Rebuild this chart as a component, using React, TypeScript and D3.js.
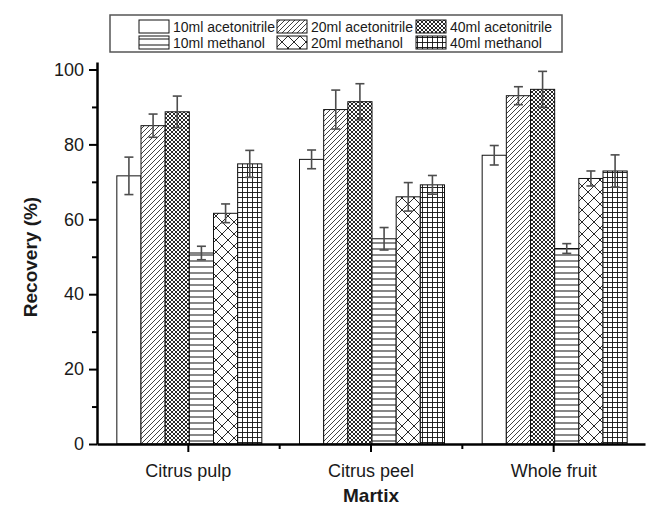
import React, { useEffect, useRef } from 'react';
import * as d3 from 'd3';

const categories = ['Citrus pulp', 'Citrus peel', 'Whole fruit'];
const seriesNames = [
  '10ml acetonitrile',
  '20ml acetonitrile',
  '40ml acetonitrile',
  '10ml methanol',
  '20ml methanol',
  '40ml methanol',
];

// recovery (%) per matrix, order follows categories
const acn10 = [71.6, 76.0, 77.1];
const acn20 = [85.0, 89.3, 93.0];
const acn40 = [88.7, 91.4, 94.7];
const meoh10 = [51.0, 54.8, 52.2];
const meoh20 = [61.6, 66.0, 70.9];
const meoh40 = [74.8, 69.2, 72.9];

// standard deviations
const acn10Err = [5.0, 2.5, 2.6];
const acn20Err = [3.1, 5.2, 2.4];
const acn40Err = [4.2, 4.8, 4.8];
const meoh10Err = [1.8, 3.0, 1.3];
const meoh20Err = [2.5, 3.8, 2.0];
const meoh40Err = [3.6, 2.5, 4.3];

const yTicks = [0, 20, 40, 60, 80, 100];
const yMinorTicks = [10, 30, 50, 70, 90];

const values = [acn10, acn20, acn40, meoh10, meoh20, meoh40];
const errors = [acn10Err, acn20Err, acn40Err, meoh10Err, meoh20Err, meoh40Err];

const FONT = "'Liberation Sans', Arial, Helvetica, sans-serif";

function RecoveryChart() {
  const ref = useRef<SVGSVGElement>(null);

  useEffect(() => {
    const width = 649, height = 509;
    const left = 97, right = 645, top = 62, bottom = 444;

    const svg = d3.select(ref.current)
      .attr('width', width)
      .attr('height', height);
    svg.selectAll('*').remove();

    // hatch patterns
    const defs = svg.append('defs');
    const mkPattern = (id: string, w: number, h: number, d: string, sw: number) => {
      const p = defs.append('pattern')
        .attr('id', id)
        .attr('patternUnits', 'userSpaceOnUse')
        .attr('width', w)
        .attr('height', h);
      p.append('rect').attr('width', w).attr('height', h).attr('fill', '#fff');
      if (d) p.append('path').attr('d', d).attr('stroke', '#111').attr('stroke-width', sw).attr('fill', 'none');
    };
    mkPattern('pat0', 4, 4, '', 1);
    mkPattern('pat1', 5, 5, 'M0,5 L5,0 M-1,1 L1,-1 M4,6 L6,4', 0.8);
    mkPattern('pat2', 4, 4, 'M0,4 L4,0 M-1,1 L1,-1 M3,5 L5,3 M0,0 L4,4 M-1,3 L1,5 M3,-1 L5,1', 0.9);
    mkPattern('pat3', 6, 6, 'M0,3 L6,3', 1);
    mkPattern('pat4', 12, 12, 'M0,0 L12,12 M0,12 L12,0', 0.9);
    mkPattern('pat5', 5, 5, 'M0,2.5 L5,2.5 M2.5,0 L2.5,5', 0.9);

    const x = d3.scaleBand().domain(categories).range([left, right]).padding(0);
    const groupWidth = 145;
    const xs = d3.scaleBand().domain(seriesNames).range([0, groupWidth]);
    const y = d3.scaleLinear().domain([0, 102]).range([bottom, top]);
    const off = (x.bandwidth() - groupWidth) / 2 + 1;

    // bars
    seriesNames.forEach((name, i) => {
      svg.append('g')
        .selectAll('rect')
        .data(values[i])
        .enter().append('rect')
        .attr('x', (d, j) => (x(categories[j]) as number) + off + (xs(name) as number))
        .attr('y', d => y(d))
        .attr('width', xs.bandwidth())
        .attr('height', d => bottom - y(d))
        .attr('fill', `url(#pat${i})`)
        .attr('stroke', '#111')
        .attr('stroke-width', 1);
    });

    // error bars
    const cap = 4.5;
    seriesNames.forEach((name, i) => {
      const g = svg.append('g').attr('stroke', '#4d4d4d').attr('stroke-width', 1.6);
      values[i].forEach((v, j) => {
        const cx = (x(categories[j]) as number) + off + (xs(name) as number) + xs.bandwidth() / 2;
        const e = errors[i][j];
        g.append('line').attr('x1', cx).attr('x2', cx).attr('y1', y(v - e)).attr('y2', y(v + e));
        g.append('line').attr('x1', cx - cap).attr('x2', cx + cap).attr('y1', y(v + e)).attr('y2', y(v + e));
        g.append('line').attr('x1', cx - cap).attr('x2', cx + cap).attr('y1', y(v - e)).attr('y2', y(v - e));
      });
    });

    // y axis
    const yAxis = svg.append('g')
      .attr('transform', `translate(${left},0)`)
      .call(d3.axisLeft(y).tickValues(yTicks).tickSize(8).tickSizeOuter(0).tickPadding(5));
    svg.append('g')
      .attr('transform', `translate(${left},0)`)
      .call(d3.axisLeft(y).tickValues(yMinorTicks).tickSize(5).tickFormat(() => ''))
      .call(g => g.select('.domain').remove())
      .selectAll('line').attr('stroke', '#000').attr('stroke-width', 2);
    yAxis.select('.domain').attr('stroke', '#000').attr('stroke-width', 2.5);
    yAxis.selectAll('line').attr('stroke', '#000').attr('stroke-width', 2);
    yAxis.selectAll('text')
      .attr('font-family', FONT).attr('font-size', 18).attr('fill', '#1a1a1a');

    // x axis
    const xAxis = svg.append('g')
      .attr('transform', `translate(0,${bottom})`)
      .call(d3.axisBottom(x).tickSize(8).tickSizeOuter(0).tickPadding(12));
    xAxis.select('.domain').attr('stroke', '#000').attr('stroke-width', 2.5);
    xAxis.selectAll('line').attr('stroke', '#000').attr('stroke-width', 2);
    xAxis.selectAll('text')
      .attr('font-family', FONT).attr('font-size', 18).attr('fill', '#1a1a1a');
    svg.append('g')
      .selectAll('line')
      .data(categories.slice(1))
      .enter().append('line')
      .attr('x1', d => x(d) as number).attr('x2', d => x(d) as number)
      .attr('y1', bottom).attr('y2', bottom + 5)
      .attr('stroke', '#000').attr('stroke-width', 2);

    // axis titles
    svg.append('text')
      .attr('x', (left + right) / 2).attr('y', 502)
      .attr('text-anchor', 'middle')
      .attr('font-family', FONT).attr('font-size', 19).attr('font-weight', 'bold')
      .attr('fill', '#1a1a1a')
      .text('Martix');
    svg.append('text')
      .attr('transform', `translate(37,${(top + bottom) / 2 + 4}) rotate(-90)`)
      .attr('text-anchor', 'middle')
      .attr('font-family', FONT).attr('font-size', 19).attr('font-weight', 'bold')
      .attr('fill', '#1a1a1a')
      .text('Recovery (%)');

    // legend
    const lg = svg.append('g');
    lg.append('rect')
      .attr('x', 110).attr('y', 15).attr('width', 452).attr('height', 37)
      .attr('fill', 'none').attr('stroke', '#555').attr('stroke-width', 1.5);
    const colX = [139, 277, 416];
    seriesNames.forEach((name, i) => {
      const c = i % 3, r = Math.floor(i / 3);
      const sx = colX[c], sy = 20 + r * 16;
      lg.append('rect')
        .attr('x', sx).attr('y', sy).attr('width', 30).attr('height', 13)
        .attr('fill', `url(#pat${i})`).attr('stroke', '#111').attr('stroke-width', 1);
      lg.append('text')
        .attr('x', sx + 34).attr('y', sy + 12)
        .attr('font-family', FONT).attr('font-size', 14).attr('fill', '#1a1a1a')
        .text(name);
    });
  }, []);

  return <svg ref={ref} xmlns="http://www.w3.org/2000/svg" />;
}

export default function App() {
  return (
    <div style={{ position: 'absolute', left: 0, top: 0, background: '#fff' }}>
      <RecoveryChart />
    </div>
  );
}
